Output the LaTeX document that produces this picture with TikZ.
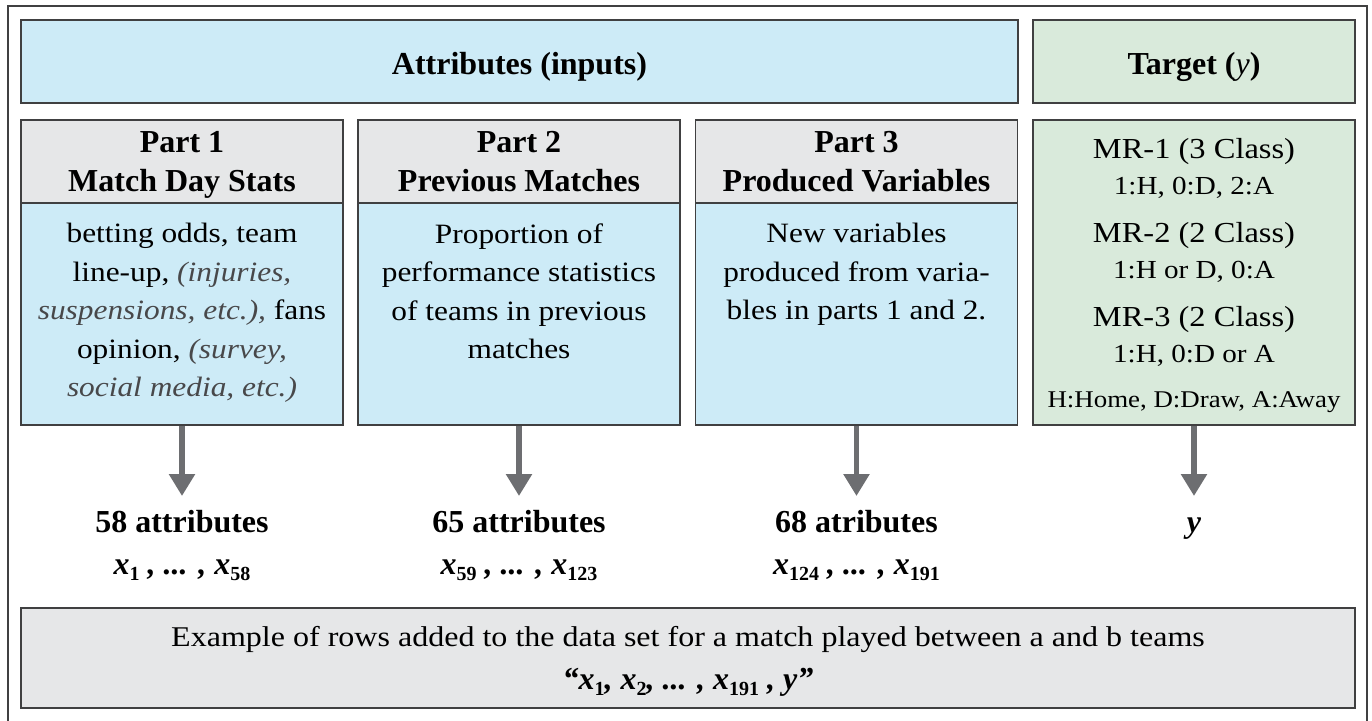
\documentclass[tikz,border=0pt]{standalone}
\usepackage{fontspec}
\setmainfont{Liberation Serif}[FakeStretch=1.12]
\newfontfamily\boldserif{Liberation Serif}[Ligatures=TeX]
\usetikzlibrary{arrows.meta,positioning}
\definecolor{attrblue}{RGB}{205,235,247}
\definecolor{partgray}{RGB}{230,231,232}
\definecolor{targetgreen}{RGB}{217,234,219}
\definecolor{framegray}{RGB}{64,64,65}
\definecolor{arrowgray}{RGB}{109,110,113}
\definecolor{notegray}{RGB}{72,72,74}
\newcommand{\xs}[1]{x\raisebox{-3pt}{\fontsize{10}{10}\selectfont\upshape #1}}
\newcommand{\note}[1]{{\color{notegray}\itshape #1}}
\newcommand{\bx}{\boldserif\bfseries\itshape}

\begin{document}
\begin{tikzpicture}[x=0.5pt,y=-0.5pt,
  font=\fontsize{14}{19.25}\selectfont,
  bold/.style={font=\fontsize{16}{19.5}\selectfont\boldserif\bfseries},
  box/.style={draw=framegray,line width=0.9pt,minimum width=161pt,inner sep=0pt,align=center},
  top/.style={box,minimum height=41.5pt,bold,text height=13pt,text depth=0pt},
  head/.style={box,fill=partgray,minimum height=41.5pt,bold,text depth=0pt},
  body/.style={box,fill=attrblue,minimum height=111pt},
  txt/.style={anchor=north,inner sep=0pt,align=center,yshift=-10.5pt},
  lbl/.style={anchor=north,inner sep=0pt,align=center,bold},
  mr/.style={inner sep=0pt,align=center,font=\fontsize{13}{18}\selectfont},
  arr/.style={arrowgray,line width=2.8pt,shorten >=4.5pt,-{Triangle[width=12.5pt,length=11pt]}}]
  \useasboundingbox (0,0) rectangle (1372,720);
  \draw[framegray,line width=0.8pt] (8,6) rectangle (1367,760);
  % header row
  \node[top,fill=attrblue,minimum width=498.5pt] (attr) at (519.5,61.5) {Attributes (inputs)};
  \node[top,fill=targetgreen] (tgth) at (1194,61.5) {Target ({\mdseries\itshape y})};
  % the three parts
  \node[head] (p1h) at (182,161.5) {Part 1\\Match Day Stats};
  \node[head] (p2h) at (519,161.5) {Part 2\\Previous Matches};
  \node[head] (p3h) at (856.5,161.5) {Part 3\\Produced Variables};
  \node[body] (p1b) at (182,314) {};
  \node[body] (p2b) at (519,314) {};
  \node[body] (p3b) at (856.5,314) {};
  \node[txt] (p1t) at (p1b.north) {betting odds, team\\line-up, \note{(injuries,}\\\note{suspensions, etc.),} fans\\opinion, \note{(survey,}\\\note{social media, etc.)}};
  \node[txt] (p2t) at (p2b.north) {Proportion of\\performance statistics\\of teams in previous\\matches};
  \node[txt] (p3t) at (p3b.north) {New variables\\produced from varia-\\bles in parts 1 and 2.};
  % target
  \node[box,fill=targetgreen,minimum height=152.5pt] (tgt) at (1194,272.5) {};
  \node[mr] (mr1) at (1194,168) {\fontsize{14.5}{18}\selectfont MR-1 (3 Class)\\1:H, 0:D, 2:A};
  \node[mr] (mr2) at (1194,252) {\fontsize{14.5}{18}\selectfont MR-2 (2 Class)\\1:H or D, 0:A};
  \node[mr] (mr3) at (1194,336.5) {\fontsize{14.5}{18}\selectfont MR-3 (2 Class)\\1:H, 0:D or A};
  \node[mr,font=\fontsize{12}{14}\selectfont] (legend) at (1194,402) {H:Home, D:Draw, A:Away};
  % counts
  \node[lbl] (n1) at (182,505) {\strut 58 attributes\\[1.5pt]{\bx \xs{1} , ... , \xs{58}}};
  \node[lbl] (n2) at (519,505) {\strut 65 attributes\\[1.5pt]{\bx \xs{59} , ... , \xs{123}}};
  \node[lbl] (n3) at (856.5,505) {\strut 68 atributes\\[1.5pt]{\bx \xs{124} , ... , \xs{191}}};
  \node[lbl] (ny) at (1194,505) {\strut{\bx y}};
  \draw[arr] (p1b.south) -- (n1.north);
  \draw[arr] (p2b.south) -- (n2.north);
  \draw[arr] (p3b.south) -- (n3.north);
  \draw[arr] (tgt.south) -- (ny.north);
  % example row
  \node[box,fill=partgray,minimum width=667pt,minimum height=50pt,text depth=0pt,font=\fontsize{14.3}{19.25}\selectfont] (rows) at (688,658) {Example of rows added to the data set for a match played between a and b teams\\[2.5pt]{\fontsize{16}{19}\selectfont\bx ``\xs{1}, \xs{2}, ... , \xs{191} , y''}};
\end{tikzpicture}
\end{document}
